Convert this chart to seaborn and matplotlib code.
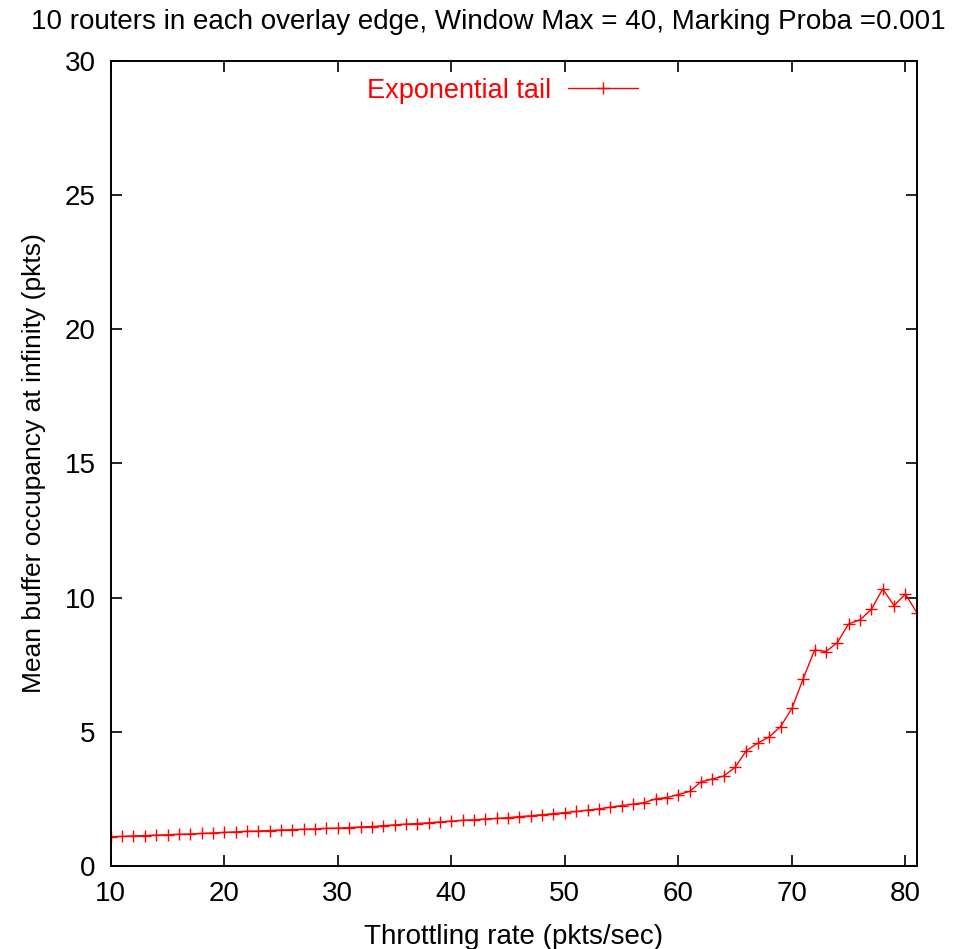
import pandas as pd
import matplotlib
matplotlib.use("Agg")
import matplotlib.pyplot as plt
import seaborn as sns

# throttling rate (pkts/sec)
rates = list(range(10, 82))
# mean buffer occupancy at infinity (pkts)
occupancy = [
    1.09, 1.10, 1.12, 1.13, 1.15, 1.16, 1.18, 1.19, 1.21, 1.23,
    1.25, 1.27, 1.29, 1.30, 1.32, 1.34, 1.35, 1.37, 1.38, 1.40,
    1.41, 1.43, 1.45, 1.47, 1.50, 1.53, 1.56, 1.58, 1.61, 1.64,
    1.67, 1.70, 1.72, 1.75, 1.77, 1.80, 1.84, 1.87, 1.91, 1.95,
    1.99, 2.03, 2.08, 2.13, 2.19, 2.25, 2.30, 2.36, 2.50, 2.55,
    2.66, 2.78, 3.14, 3.24, 3.35, 3.68, 4.30, 4.58, 4.81, 5.19,
    5.87, 6.98, 8.05, 7.99, 8.32, 9.02, 9.17, 9.56, 10.32, 9.70,
    10.13, 9.44,
]
x_ticks = [10, 20, 30, 40, 50, 60, 70, 80]
y_ticks = [0, 5, 10, 15, 20, 25, 30]

title = "10 routers in each overlay edge, Window Max = 40, Marking Proba =0.001"
series_name = "Exponential tail"

df = pd.DataFrame({"rate": rates, "occupancy": occupancy})

sns.set_theme(style="ticks", rc={
    "text.color": "black",
    "axes.labelcolor": "black",
    "xtick.color": "black",
    "ytick.color": "black",
    "axes.edgecolor": "black",
    "xtick.direction": "in",
    "ytick.direction": "in",
})
plt.rcParams["font.family"] = ["Liberation Sans", "DejaVu Sans"]

fig = plt.figure(figsize=(9.63, 9.49), dpi=100)
ax = fig.add_axes([0.115, 0.0875, 0.837, 0.8485])

sns.lineplot(
    data=df, x="rate", y="occupancy", ax=ax, color="red", linewidth=1.0,
    marker="+", markersize=9, markeredgecolor="red", markeredgewidth=1.0,
    label=series_name,
)

ax.set_xlim(10, 81)
ax.set_ylim(0, 30)
ax.set_xticks(x_ticks)
ax.set_yticks(y_ticks)
ax.tick_params(axis="both", which="major", labelsize=20, length=8, width=1.2,
               top=True, right=True, pad=11)
for spine in ax.spines.values():
    spine.set_visible(True)
    spine.set_linewidth(1.4)

ax.set_xlabel("Throttling rate (pkts/sec)", fontsize=20, labelpad=12)
ax.set_ylabel("Mean buffer occupancy at infinity (pkts)", fontsize=19, labelpad=13)
fig.text(488 / 963, 1 - 22 / 949, title, ha="center", va="center", fontsize=20)

ax.legend(loc="upper left", bbox_to_anchor=(0.318, 0.979), frameon=False,
          markerfirst=False, fontsize=19.5, labelcolor="red", handlelength=2.6,
          borderpad=0, borderaxespad=0, handletextpad=0.6)

fig.savefig("out.png", dpi=100)
